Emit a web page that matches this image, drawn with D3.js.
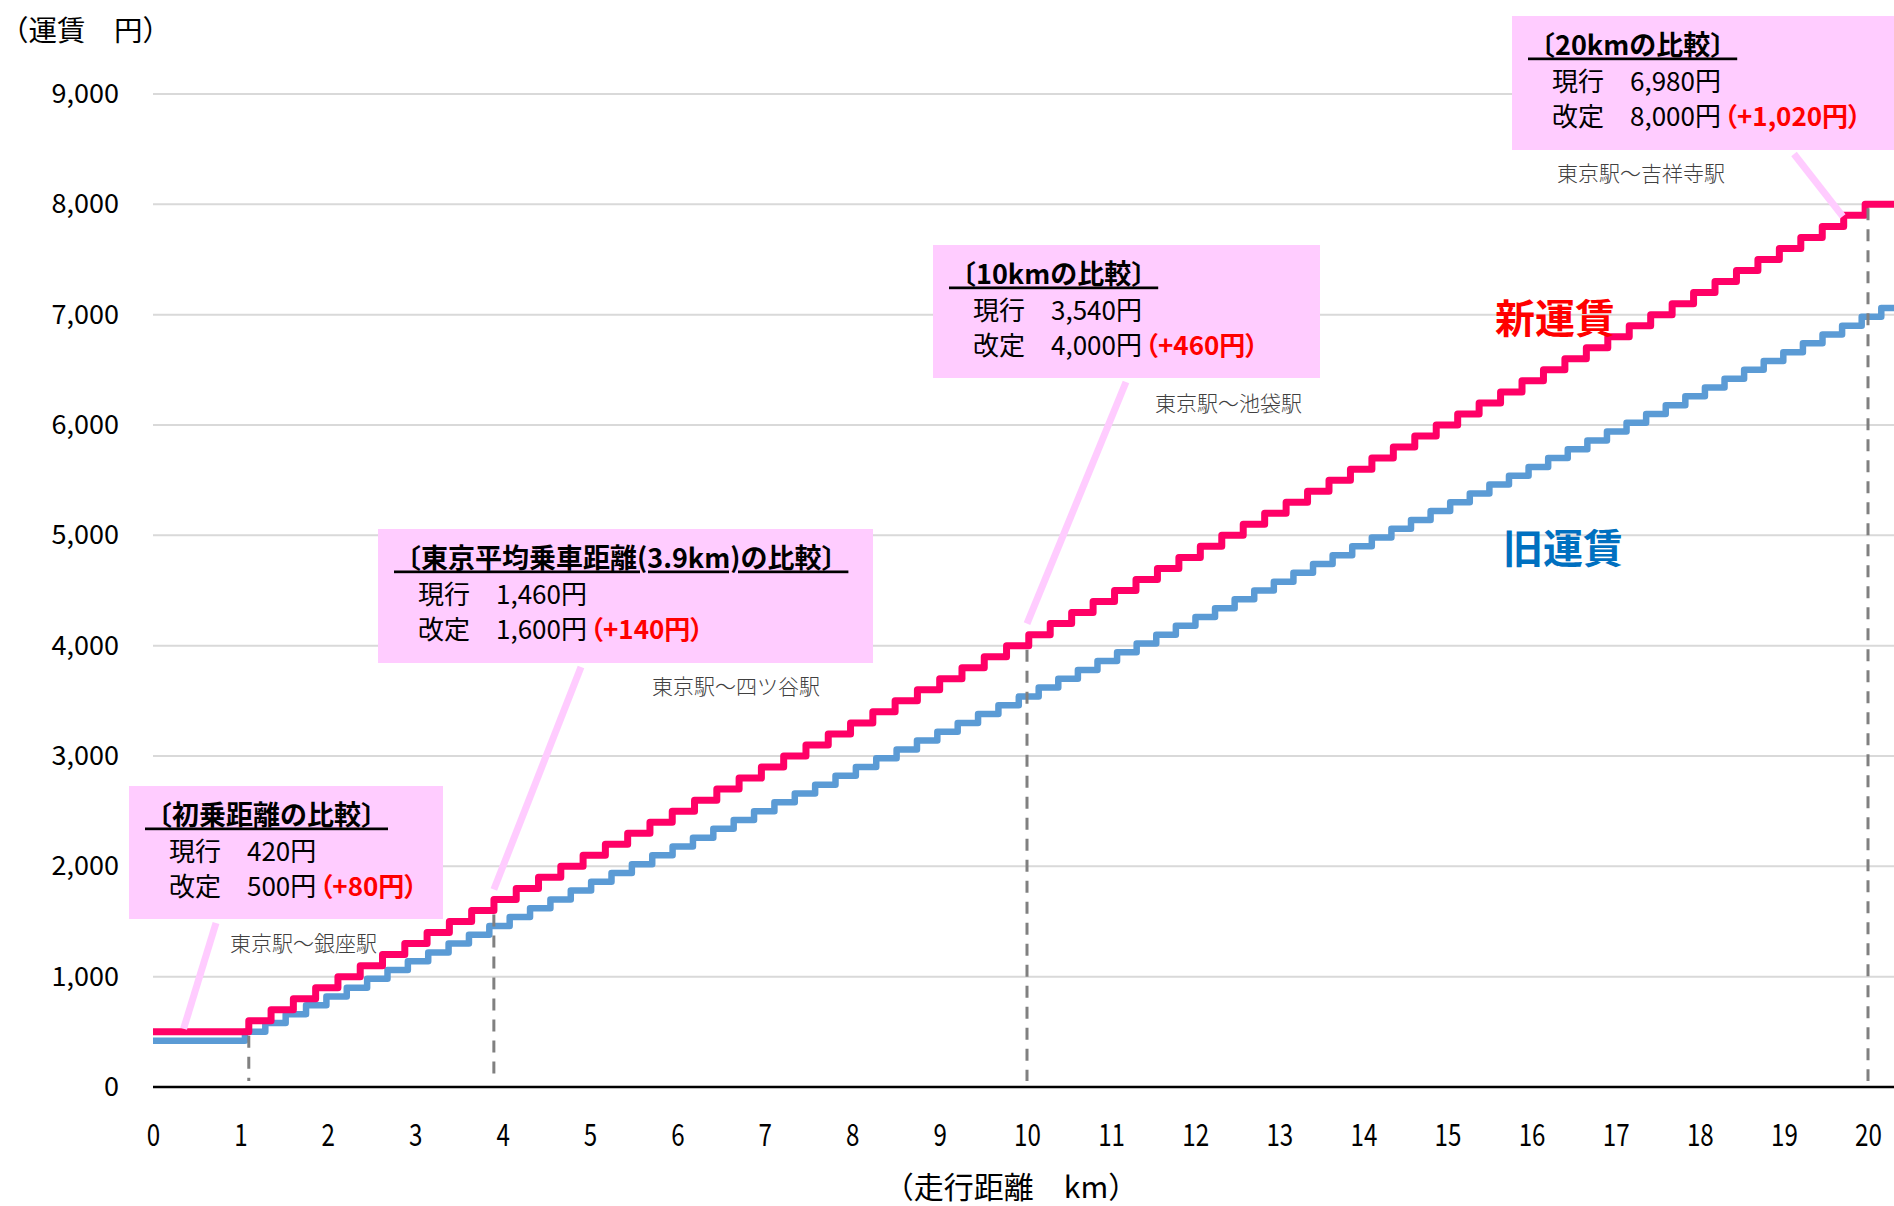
<!DOCTYPE html>
<html>
<head>
<meta charset="utf-8">
<script src="https://cdn.jsdelivr.net/npm/d3@7"></script>
<style>
  body { margin: 0; background: #fff; }
  svg { display: block; }
  text { font-family: "Noto Sans CJK JP", "Noto Sans", sans-serif; }
  .palt { font-feature-settings: "palt"; }
</style>
</head>
<body>
<svg id="chart" width="1894" height="1206"></svg>
<script>
// Fare levels: distance (km) where each level begins, and the fare (yen) of that level
const newFareKm = [0, 1.096, 1.351, 1.606, 1.861, 2.116, 2.371, 2.626, 2.881, 3.136, 3.391,
  3.646, 3.901, 4.156, 4.411, 4.666, 4.921, 5.176, 5.431, 5.686, 5.941,
  6.196, 6.451, 6.706, 6.961, 7.216, 7.471, 7.726, 7.981, 8.236, 8.491,
  8.746, 9.001, 9.256, 9.511, 9.766, 10.021, 10.276, 10.531, 10.786, 11.041,
  11.296, 11.551, 11.806, 12.061, 12.316, 12.571, 12.826, 13.081, 13.336, 13.591,
  13.846, 14.101, 14.356, 14.611, 14.866, 15.121, 15.376, 15.631, 15.886, 16.141,
  16.396, 16.651, 16.906, 17.161, 17.416, 17.671, 17.926, 18.181, 18.436, 18.691,
  18.946, 19.201, 19.456, 19.711, 19.966];
const newFareYen = [500, 600, 700, 800, 900, 1000, 1100, 1200, 1300, 1400, 1500,
  1600, 1700, 1800, 1900, 2000, 2100, 2200, 2300, 2400, 2500,
  2600, 2700, 2800, 2900, 3000, 3100, 3200, 3300, 3400, 3500,
  3600, 3700, 3800, 3900, 4000, 4100, 4200, 4300, 4400, 4500,
  4600, 4700, 4800, 4900, 5000, 5100, 5200, 5300, 5400, 5500,
  5600, 5700, 5800, 5900, 6000, 6100, 6200, 6300, 6400, 6500,
  6600, 6700, 6800, 6900, 7000, 7100, 7200, 7300, 7400, 7500,
  7600, 7700, 7800, 7900, 8000];

const oldFareKm = [0, 1.052, 1.285, 1.518, 1.751, 1.984, 2.217, 2.450, 2.683, 2.916, 3.149,
  3.382, 3.615, 3.848, 4.081, 4.314, 4.547, 4.780, 5.013, 5.246, 5.479,
  5.712, 5.945, 6.178, 6.411, 6.644, 6.877, 7.110, 7.343, 7.576, 7.809,
  8.042, 8.275, 8.508, 8.741, 8.974, 9.207, 9.440, 9.673, 9.906, 10.139,
  10.372, 10.605, 10.838, 11.071, 11.304, 11.537, 11.770, 12.003, 12.236, 12.469,
  12.702, 12.935, 13.168, 13.401, 13.634, 13.867, 14.100, 14.333, 14.566, 14.799,
  15.032, 15.265, 15.498, 15.731, 15.964, 16.197, 16.430, 16.663, 16.896, 17.129,
  17.362, 17.595, 17.828, 18.061, 18.294, 18.527, 18.760, 18.993, 19.226, 19.459,
  19.692, 19.925, 20.158];
const oldFareYen = [420, 500, 580, 660, 740, 820, 900, 980, 1060, 1140, 1220,
  1300, 1380, 1460, 1540, 1620, 1700, 1780, 1860, 1940, 2020,
  2100, 2180, 2260, 2340, 2420, 2500, 2580, 2660, 2740, 2820,
  2900, 2980, 3060, 3140, 3220, 3300, 3380, 3460, 3540, 3620,
  3700, 3780, 3860, 3940, 4020, 4100, 4180, 4260, 4340, 4420,
  4500, 4580, 4660, 4740, 4820, 4900, 4980, 5060, 5140, 5220,
  5300, 5380, 5460, 5540, 5620, 5700, 5780, 5860, 5940, 6020,
  6100, 6180, 6260, 6340, 6420, 6500, 6580, 6660, 6740, 6820,
  6900, 6980, 7060];

const lastKm = 20.4;

// Axis ticks
const xTickKm = [0, 1, 2, 3, 4, 5, 6, 7, 8, 9, 10, 11, 12, 13, 14, 15, 16, 17, 18, 19, 20];
const yTickYen = [0, 1000, 2000, 3000, 4000, 5000, 6000, 7000, 8000, 9000];

// Comparison call-outs
const compareKm = [1.096, 3.9, 10, 20];
const pointerKm = [0.35, 3.9, 10, 19.7];
const compareTitles = ["〔初乗距離の比較〕", "〔東京平均乗車距離(3.9km)の比較〕", "〔10kmの比較〕", "〔20kmの比較〕"];
const currentFares = ["420円", "1,460円", "3,540円", "6,980円"];
const revisedFares = ["500円", "1,600円", "4,000円", "8,000円"];
const fareIncreases = ["（+80円）", "（+140円）", "（+460円）", "（+1,020円）"];
const routes = ["東京駅〜銀座駅", "東京駅〜四ツ谷駅", "東京駅〜池袋駅", "東京駅〜吉祥寺駅"];

// Call-out box placement on the page
const boxLayout = [
  { x: 129, y: 786, w: 314, h: 133, stemX: 87, gap: 3, routeX: 230, routeY: 942 },
  { x: 378, y: 529, w: 495, h: 134, stemX: 203, gap: 21, routeX: 652, routeY: 685 },
  { x: 933, y: 245, w: 387, h: 133, stemX: 193, gap: 22, routeX: 1155, routeY: 402 },
  { x: 1512, y: 16, w: 400, h: 134, stemX: 282, gap: 10, routeX: 1557, routeY: 172 }
];

const W = 1894, H = 1206;
const svg = d3.select("#chart");
svg.append("rect").attr("width", W).attr("height", H).attr("fill", "#fff");

const x = d3.scaleLinear().domain([0, 10, 20]).range([153, 1027, 1868]);
const y = d3.scaleLinear().domain([0, 9000]).range([1087, 94]);

const fareAt = (kms, yens, d) => yens[Math.max(0, d3.bisectLeft(kms, d) - 1)];

// Horizontal gridlines
svg.append("g").selectAll("line")
  .data(yTickYen.filter(v => v > 0))
  .join("line")
  .attr("x1", x(0)).attr("x2", x(lastKm))
  .attr("y1", d => y(d)).attr("y2", d => y(d))
  .attr("stroke", "#d9d9d9").attr("stroke-width", 2);

// Y axis labels
const yAxis = svg.append("g")
  .attr("transform", `translate(${x(0)},0)`)
  .call(d3.axisLeft(y).tickValues(yTickYen).tickFormat(d3.format(",")).tickSize(0).tickPadding(34));
yAxis.select(".domain").remove();
yAxis.selectAll("text")
  .attr("font-family", "'Liberation Sans', Arial, sans-serif")
  .attr("font-size", 27).attr("fill", "#000");

// X axis labels (narrow digits)
const xAxis = svg.append("g")
  .attr("transform", `translate(0,${y(0)})`)
  .call(d3.axisBottom(x).tickValues(xTickKm).tickFormat(d3.format("d")).tickSize(0));
xAxis.select(".domain").remove();
xAxis.selectAll("text")
  .attr("y", 48).attr("dy", "0.35em")
  .attr("transform", "scale(0.78,1)")
  .attr("font-family", "'Liberation Sans', Arial, sans-serif")
  .attr("font-size", 31).attr("fill", "#000");

// X axis baseline
svg.append("line")
  .attr("x1", x(0)).attr("x2", x(lastKm))
  .attr("y1", y(0)).attr("y2", y(0))
  .attr("stroke", "#000").attr("stroke-width", 2.5);

// Fare step lines
const stepLine = d3.line()
  .x(d => x(d[0])).y(d => y(d[1]))
  .curve(d3.curveStepAfter);

const oldPts = oldFareKm.map((k, i) => [k, oldFareYen[i]]);
oldPts.push([lastKm, oldFareYen[oldFareYen.length - 1]]);
const newPts = newFareKm.map((k, i) => [k, newFareYen[i]]);
newPts.push([lastKm, newFareYen[newFareYen.length - 1]]);

svg.append("path").attr("d", stepLine(oldPts))
  .attr("fill", "none").attr("stroke", "#5b9bd5").attr("stroke-width", 6.5)
  .attr("stroke-linejoin", "round");
svg.append("path").attr("d", stepLine(newPts))
  .attr("fill", "none").attr("stroke", "#ff0066").attr("stroke-width", 7)
  .attr("stroke-linejoin", "round");

// Dashed markers at the compared distances
svg.append("g").selectAll("line")
  .data(compareKm)
  .join("line")
  .attr("x1", d => x(d)).attr("x2", d => x(d))
  .attr("y1", d => y(fareAt(newFareKm, newFareYen, d)) + 4)
  .attr("y2", y(0) - 6)
  .attr("stroke", "#808080").attr("stroke-width", 3)
  .attr("stroke-dasharray", "12,9");

// Series labels
svg.append("text").attr("x", 1495).attr("y", 316).attr("dominant-baseline", "central")
  .attr("font-size", 40).attr("font-weight", "bold").attr("fill", "#ff0000").text("新運賃");
svg.append("text").attr("x", 1503).attr("y", 546).attr("dominant-baseline", "central")
  .attr("font-size", 40).attr("font-weight", "bold").attr("fill", "#0070c0").text("旧運賃");

// Call-outs
compareKm.forEach((km, i) => {
  const b = boxLayout[i];
  const g = svg.append("g");
  const tx = x(pointerKm[i]);
  const ty = y(fareAt(newFareKm, newFareYen, pointerKm[i])) - b.gap;
  g.append("line")
    .attr("x1", b.x + b.stemX).attr("y1", b.y + b.h + 4)
    .attr("x2", tx).attr("y2", ty)
    .attr("stroke", "#ffccff").attr("stroke-width", 7);
  g.append("rect").attr("x", b.x).attr("y", b.y).attr("width", b.w).attr("height", b.h)
    .attr("fill", "#ffccff");
  g.append("text").attr("x", b.x + 16).attr("y", b.y + 27).attr("dominant-baseline", "central")
    .attr("font-size", 27).attr("font-weight", "bold").attr("fill", "#000")
    .style("text-decoration", "underline")
    .text(compareTitles[i]);
  g.append("text").attr("x", b.x + 40).attr("y", b.y + 63).attr("dominant-baseline", "central")
    .attr("font-size", 26).attr("fill", "#000")
    .text("現行　" + currentFares[i]);
  const t3 = g.append("text").attr("x", b.x + 40).attr("y", b.y + 98).attr("dominant-baseline", "central")
    .attr("font-size", 26).attr("fill", "#000");
  t3.append("tspan").text("改定　" + revisedFares[i]);
  t3.append("tspan").attr("class", "palt").attr("fill", "#ff0000").attr("font-weight", "bold")
    .attr("dx", 3).text(fareIncreases[i]);
  svg.append("text").attr("x", b.routeX).attr("y", b.routeY).attr("dominant-baseline", "central")
    .attr("font-size", 21).attr("font-weight", 300).attr("fill", "#404040")
    .text(routes[i]);
});

// Axis titles
svg.append("text").attr("x", 0).attr("y", 28).attr("dominant-baseline", "central")
  .attr("font-size", 28.5).attr("fill", "#000").text("（運賃　円）");
svg.append("text").attr("x", 1011).attr("y", 1185).attr("dominant-baseline", "central")
  .attr("text-anchor", "middle")
  .attr("font-size", 30).attr("fill", "#000").text("（走行距離　km）");
</script>
</body>
</html>
